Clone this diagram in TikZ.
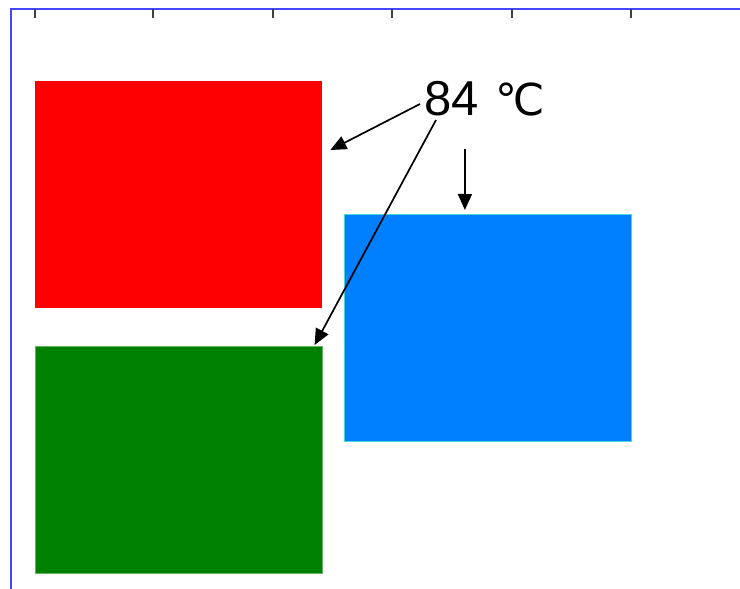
\documentclass[tikz,border=0pt]{standalone}
\usepackage{fontspec}
\setmainfont{Liberation Sans}
\newfontfamily\symfont{DejaVu Sans}
\usetikzlibrary{arrows.meta, positioning}

\definecolor{axisblue}{RGB}{70,70,255}
\definecolor{boxred}{RGB}{255,0,0}
\definecolor{boxgreen}{RGB}{0,128,0}
\definecolor{boxblue}{RGB}{0,128,255}
\definecolor{edgecyan}{RGB}{70,215,210}

\begin{document}
\begin{tikzpicture}[
    x=1pt, y=-1pt,
    panel/.style={rectangle, minimum width=287pt, minimum height=227pt, inner sep=0pt, anchor=north west},
    pointer/.style={draw, line width=1.7pt, -{Triangle[length=16pt, width=14pt]}},
    tick/.style={draw=black!75, line width=1.4pt}
]
    \useasboundingbox (0,0) rectangle (740,589);

    % Axes
    \draw[axisblue, line width=1.8pt] (11,589) -- (11,9) -- (740,9);
    \foreach \tx in {35,153,273,392,512,631}
        \path[tick] (\tx,9) -- (\tx,18);

    % Panels
    \node[panel, fill=boxred] (hot) at (35,81) {};
    \node[panel, fill=boxgreen, draw=boxgreen!60!white, line width=0.6pt] (cool) at (35,346) {};
    \node[panel, fill=boxblue, draw=edgecyan, line width=0.8pt] (mid) at (344,214) {};

    % Label
    \node[font=\fontsize{49}{49}\selectfont, inner sep=0pt, anchor=base west] (temp) at (424,115) {84\hspace{17pt}{\symfont\fontsize{44}{44}\selectfont ℃}};

    % Pointers
    \coordinate (s1) at (420,104);
    \coordinate (s2) at (436,120);
    \coordinate (s3) at (465,149);
    \coordinate (t1) at ([xshift=8pt, yshift=-69pt]hot.north east);
    \coordinate (t2) at ([xshift=-8pt, yshift=1pt]cool.north east);
    \coordinate (t3) at ([xshift=-23pt, yshift=4pt]mid.north);
    \path[pointer] (s1) -- (t1);
    \path[pointer] (s2) -- (t2);
    \path[pointer] (s3) -- (t3);
\end{tikzpicture}
\end{document}
